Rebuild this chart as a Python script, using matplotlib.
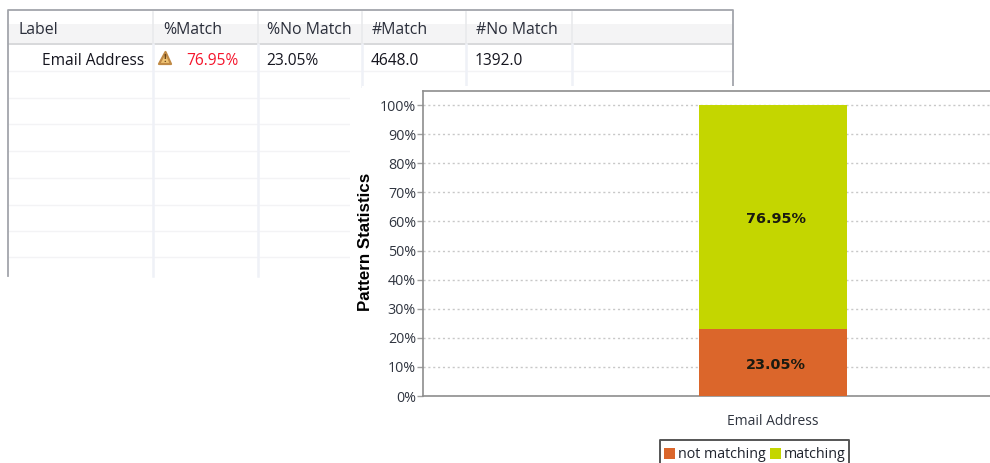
import matplotlib
matplotlib.use("Agg")
import matplotlib.pyplot as plt
from matplotlib.patches import Rectangle, Polygon

W, H = 990, 463
categories = ["Email Address"]
not_matching = [23.05]
matching = [76.95]
series_names = ["not matching", "matching"]
y_ticks = list(range(0, 101, 10))
columns = ["Label", "%Match", "%No Match", "#Match", "#No Match"]
row = ["Email Address", "76.95%", "23.05%", "4648.0", "1392.0"]
ORANGE, LIME = "#DB662B", "#C4D600"
FONT = "Open Sans"
plt.rcParams["font.family"] = [FONT, "DejaVu Sans"]

fig = plt.figure(figsize=(W / 100, H / 100), dpi=100, facecolor="white")

# background layer in pixel coordinates: the table screenshot
bg = fig.add_axes([0, 0, 1, 1], zorder=0)
bg.set_xlim(0, W); bg.set_ylim(H, 0); bg.axis("off")
GRID = "#EFF1F7"
col_lines = [153, 258, 362, 466, 572]
row_lines = [71, 98, 124, 151, 178, 205, 231, 257]
bg.add_patch(Rectangle((9, 24), 724, 19, fc="#F4F4F5", ec="none"))
bg.plot([9, 733], [43.5, 43.5], color="#D4D5D8", lw=1.3)
for y in row_lines:
    bg.plot([9, 733], [y, y], color="#F3F3F5", lw=1)
for x in col_lines:
    bg.plot([x, x], [44, 276], color=GRID, lw=1.8)
    bg.plot([x, x], [12, 43], color="#E9EAEC", lw=1.2)
bg.plot([8, 8, 733, 733], [276, 10, 10, 86], color="#A2A5AB", lw=1.3)

hdr_x = [18, 163, 267, 372, 476]
for x, t in zip(hdr_x, columns):
    bg.text(x, 30, t, fontsize=11.4, color="#2A2E3A", va="center", ha="left")
bg.text(144, 61, row[0], fontsize=11.2, color="#15151F", va="center", ha="right")
bg.text(186, 61, row[1], fontsize=11.2, color="#F5142B", va="center", ha="left")
for x, t in zip(hdr_x[2:], row[2:]):
    bg.text(x - 1, 61, t, fontsize=11.2, color="#15151F", va="center", ha="left")
# warning icon
bg.add_patch(Polygon([[165.5, 52], [171, 64], [159, 64]], closed=True, fc="#F0C474", ec="#C08A45",
                     lw=1.6, joinstyle="round"))
bg.text(165.2, 59.5, "!", fontsize=7, color="#6A4518", ha="center", va="center", fontweight="bold")

# white panel of the chart screenshot
bg.add_patch(Rectangle((362, 86), 628, 377, fc="white", ec="none", zorder=5))
bg.add_patch(Rectangle((350, 88), 20, 375, fc="white", ec="none", zorder=5))

# bar chart
L, R, T, B = 423, 990, 91, 396
ax = fig.add_axes([L / W, 1 - B / H, (R - L) / W, (B - T) / H], zorder=2, facecolor="white")
px_per_pct = 2.91
bar_px, centre_px = 148, 773
ax.set_ylim(0, (B - T) / px_per_pct)
ax.set_xlim(-(centre_px - L) / bar_px, (R - centre_px) / bar_px)
ax.bar(categories, not_matching, width=1, color=ORANGE, zorder=3, label=series_names[0])
ax.bar(categories, matching, width=1, bottom=not_matching, color=LIME, zorder=3, label=series_names[1])
bottoms = [0, not_matching[0]]
for b, h in zip(bottoms, [not_matching[0], matching[0]]):
    ax.annotate(f"{h:.2f}%", (0, b + h / 2), xytext=(2.2, -1.5), textcoords="offset points",
                ha="center", va="center", fontsize=10.4, fontweight="bold",
                family="DejaVu Sans", color="#1A1A10", zorder=4)
ax.set_yticks(y_ticks)
ax.set_yticklabels([f"{v}%" for v in y_ticks], fontsize=10.3, color="#303540")
ax.tick_params(axis="y", length=4, width=1, color="#A0A0A0", pad=1)
ax.tick_params(axis="x", length=0, pad=13, labelsize=10, labelcolor="#303540")
ax.grid(axis="y", color="#C8C8C8", ls=(0, (1.5, 2)), lw=1, zorder=1)
ax.set_axisbelow(True)
for s in ("top", "left", "bottom"):
    ax.spines[s].set_color("#8E8E8E")
    ax.spines[s].set_linewidth(1.2)
ax.spines["right"].set_visible(False)
fig.text(366 / W, 1 - 242 / H, "Pattern Statistics", rotation=90, fontsize=12.2, fontweight="bold",
         family="Liberation Sans", color="black", ha="center", va="center", zorder=6)

# legend
fr = fig.add_axes([0, 0, 1, 1], zorder=3)
fr.set_xlim(0, W); fr.set_ylim(H, 0); fr.axis("off")
fr.plot([660, 660, 849, 849], [463, 440, 440, 463], color="#555555", lw=1.4, clip_on=False)
fr.add_patch(Rectangle((664, 448), 11, 11, fc=ORANGE, ec="none"))
fr.add_patch(Rectangle((770, 448), 11, 11, fc=LIME, ec="none"))
fr.text(678, 454.5, series_names[0], fontsize=10.3, color="#20242E", va="center", ha="left")
fr.text(784, 454.5, series_names[1], fontsize=10.3, color="#20242E", va="center", ha="left")

fig.savefig("out.png", dpi=100)
